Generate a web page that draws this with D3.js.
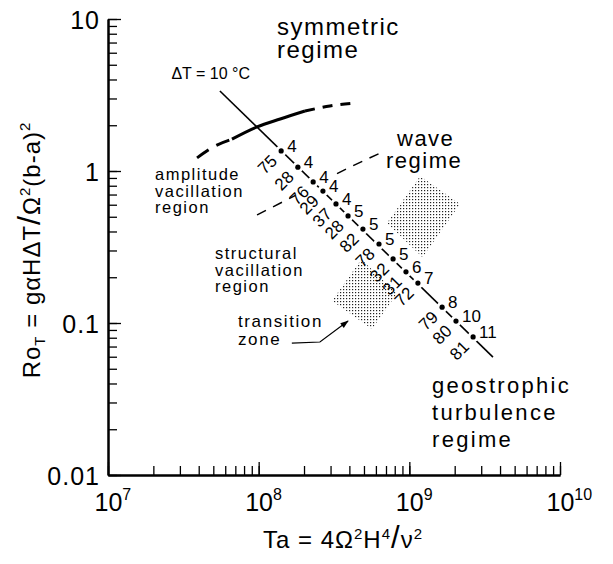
<!DOCTYPE html>
<html>
<head>
<meta charset="utf-8">
<script src="https://cdn.jsdelivr.net/npm/d3@7"></script>
<style>
  body { margin: 0; background: #fff; }
  svg text { font-family: "Liberation Sans", Arial, sans-serif; fill: #000; }
</style>
</head>
<body>
<div id="chart"></div>
<script>
// axis ticks
var taTicks = [1e7, 1e8, 1e9, 1e10];
var taExp = ["7", "8", "9", "10"];
var roTicks = [0.01, 0.1, 1, 10];
var roTickLabels = ["0.01", "0.1", "1", "10"];

// runs at dT = 10 C : Taylor number, thermal Rossby number, wave number, run id
var runTa = [1.41e8, 1.82e8, 2.30e8, 2.67e8, 3.26e8, 3.92e8, 4.92e8, 6.29e8, 7.80e8, 9.5e8, 1.14e9, 1.65e9, 2.04e9, 2.65e9];
var runRo = [1.355, 1.06, 0.848, 0.738, 0.607, 0.506, 0.415, 0.331, 0.264, 0.217, 0.183, 0.127, 0.103, 0.081];
var runWave = ["4", "4", "4", "4", "4", "5", "5", "5", "5", "6", "7", "8", "10", "11"];
var runId = ["75", "28", "76", "29", "37", "28", "82", "78", "32", "31", "72", "79", "80", "81"];

// the dT = 10 C line
var dtLineTa = [5.53e7, 3.59e9];
var dtLineRo = [3.36, 0.0597];

// symmetric / wave boundary (heavy curve), solid in the middle
var symLeftTa = [3.90e7, 5.13e7, 6.65e7];
var symLeftRo = [1.22, 1.46, 1.62];
var symMidTa = [6.65e7, 9.75e7, 1.39e8, 2.03e8];
var symMidRo = [1.62, 1.95, 2.20, 2.48];
var symRightTa = [2.03e8, 2.97e8, 4.35e8];
var symRightRo = [2.48, 2.68, 2.80];

// wave / amplitude vacillation boundary
var waveTa = [9.75e7, 1.88e8, 3.47e8, 6.6e8];
var waveRo = [0.514, 0.716, 0.984, 1.33];

// transition zone outline
var zoneTa = [3.07e8, 5.65e8, 2.17e9, 1.18e9];
var zoneRo = [0.140, 0.0914, 0.607, 0.927];

// arrow pointing at the transition zone
var arrowTa = [1.66e8, 2.55e8, 3.92e8];
var arrowRo = [0.0738, 0.0750, 0.103];

function pts(a, b) { return a.map(function(v, i) { return [v, b[i]]; }); }

var svg = d3.select("#chart")
  .append("svg")
  .attr("width", 613)
  .attr("height", 564);

var x = d3.scaleLog().domain([1e7, 1e10]).range([108, 560]);
var y = d3.scaleLog().domain([0.01, 10]).range([475, 19]);

var line = d3.line()
  .x(function(d) { return x(d[0]); })
  .y(function(d) { return y(d[1]); });
var smooth = d3.line()
  .x(function(d) { return x(d[0]); })
  .y(function(d) { return y(d[1]); })
  .curve(d3.curveMonotoneX);

// stipple pattern
var pat = svg.append("defs").append("pattern")
  .attr("id", "stip")
  .attr("patternUnits", "userSpaceOnUse")
  .attr("width", 3).attr("height", 3);
pat.append("rect").attr("x", 1).attr("y", 1).attr("width", 1.2).attr("height", 1.2).attr("fill", "#222");

// axes: minor ticks
svg.append("g")
  .attr("transform", "translate(0,475)")
  .call(d3.axisBottom(x).tickValues(x.ticks()).tickSize(-9).tickSizeOuter(0).tickFormat(""));
svg.append("g")
  .attr("transform", "translate(108,0)")
  .call(d3.axisLeft(y).tickValues(y.ticks()).tickSize(-9).tickSizeOuter(0).tickFormat(""));

// major ticks with labels
var xAxis = svg.append("g")
  .attr("transform", "translate(0,475)")
  .call(d3.axisBottom(x).tickValues(taTicks).tickSize(-13).tickSizeOuter(0).tickFormat(""));
xAxis.selectAll(".tick").append("text")
  .attr("x", -14)
  .attr("y", 36)
  .attr("text-anchor", "start")
  .style("font-size", "25px")
  .text("10")
  .append("tspan")
  .attr("dy", -11)
  .style("font-size", "16px")
  .text(function(d, i) { return taExp[i]; });

var yAxis = svg.append("g")
  .attr("transform", "translate(108,0)")
  .call(d3.axisLeft(y).tickValues(roTicks).tickSize(-13).tickSizeOuter(0).tickPadding(8)
    .tickFormat(function(d, i) { return roTickLabels[i]; }));
yAxis.selectAll(".tick text")
  .attr("dy", "0.36em")
  .style("font-size", "25px")
  .style("letter-spacing", "1px");

svg.selectAll(".domain").attr("stroke-width", 2);
svg.selectAll(".tick line").attr("stroke-width", 1.3);

// transition zone
svg.append("path")
  .attr("d", line(pts(zoneTa, zoneRo)) + "Z")
  .attr("fill", "url(#stip)");

// wave boundary, thin dashed
svg.append("path")
  .attr("d", smooth(pts(waveTa, waveRo)))
  .attr("fill", "none")
  .attr("stroke", "black")
  .attr("stroke-width", 1.5)
  .attr("stroke-dasharray", "10,8");

// clear a strip along the run line for the labels
svg.append("path")
  .attr("d", line([[runTa[0], runRo[0]], [runTa[runTa.length - 1], runRo[runRo.length - 1]]]))
  .attr("stroke", "white")
  .attr("stroke-width", 44);

// symmetric boundary, heavy
svg.append("path")
  .attr("d", smooth(pts(symLeftTa, symLeftRo)))
  .attr("fill", "none").attr("stroke", "black").attr("stroke-width", 3)
  .attr("stroke-dasharray", "14,9");
svg.append("path")
  .attr("d", smooth(pts(symMidTa, symMidRo)))
  .attr("fill", "none").attr("stroke", "black").attr("stroke-width", 3);
svg.append("path")
  .attr("d", smooth(pts(symRightTa, symRightRo)))
  .attr("fill", "none").attr("stroke", "black").attr("stroke-width", 3)
  .attr("stroke-dasharray", "10,8");

// dT = 10 C line
svg.append("path")
  .attr("d", line(pts(dtLineTa, dtLineRo)))
  .attr("stroke", "black")
  .attr("stroke-width", 1.6);

var runs = runTa.map(function(t, i) {
  return { ta: t, ro: runRo[i], wave: runWave[i], id: runId[i] };
});

svg.selectAll("circle.run")
  .data(runs)
  .enter().append("circle")
  .attr("class", "run")
  .attr("cx", function(d) { return x(d.ta); })
  .attr("cy", function(d) { return y(d.ro); })
  .attr("r", 2.6)
  .attr("fill", "black")
  .attr("stroke", "white")
  .attr("stroke-width", 6)
  .style("paint-order", "stroke");

svg.selectAll("text.wave")
  .data(runs)
  .enter().append("text")
  .attr("class", "wave")
  .attr("x", function(d) { return x(d.ta) + 6; })
  .attr("y", function(d) { return y(d.ro) + 1; })
  .style("font-size", "17px")
  .text(function(d) { return d.wave; });

svg.selectAll("text.runid")
  .data(runs)
  .enter().append("text")
  .attr("class", "runid")
  .attr("transform", function(d) {
    return "translate(" + (x(d.ta) - 3) + "," + (y(d.ro) + 11) + ") rotate(-45)";
  })
  .attr("text-anchor", "end")
  .style("font-size", "17px")
  .text(function(d) { return d.id; });

// arrow
svg.append("defs").append("marker")
  .attr("id", "head")
  .attr("viewBox", "0 0 10 10")
  .attr("refX", 9).attr("refY", 5)
  .attr("markerWidth", 9).attr("markerHeight", 7)
  .attr("orient", "auto")
  .append("path").attr("d", "M0,1.5 L10,5 L0,8.5 Z").attr("fill", "black");
svg.append("path")
  .attr("d", line(pts(arrowTa, arrowRo)))
  .attr("fill", "none")
  .attr("stroke", "black")
  .attr("stroke-width", 1.2)
  .attr("marker-end", "url(#head)");

// region labels
function label(lines, x0, y0, dy, size, ls) {
  var t = svg.append("text")
    .attr("x", x0).attr("y", y0)
    .style("font-size", size + "px")
    .style("letter-spacing", ls + "px");
  lines.forEach(function(s, i) {
    t.append("tspan").attr("x", x0).attr("y", y0 + i * dy).text(s);
  });
}
label(["symmetric", "regime"], 277, 35, 23, 24, 1.5);
label(["wave"], 397, 146, 0, 22, 1.5);
label(["regime"], 386, 168, 0, 22, 1.5);
label(["amplitude", "vacillation", "region"], 155, 180, 16.5, 16.5, 1.5);
label(["structural", "vacillation", "region"], 215, 259, 16.5, 16.5, 1.5);
label(["transition", "zone"], 238, 327, 18, 17, 1.6);
label(["geostrophic", "turbulence", "regime"], 432, 393, 27, 22, 2.3);

svg.append("text")
  .attr("x", 250).attr("y", 79)
  .attr("text-anchor", "end")
  .style("font-size", "16px")
  .text("\u0394T = 10 \u00B0C");

// axis titles
var xt = svg.append("text")
  .attr("x", 343).attr("y", 548)
  .attr("text-anchor", "middle")
  .style("font-size", "24px")
  .style("letter-spacing", "1px");
xt.append("tspan").text("Ta = 4\u03A9");
xt.append("tspan").attr("dy", -9).style("font-size", "15px").text("2");
xt.append("tspan").attr("dy", 9).text("H");
xt.append("tspan").attr("dy", -9).style("font-size", "15px").text("4");
xt.append("tspan").attr("dy", 9).style("font-size", "31px").text("/");
xt.append("tspan").text("\u03BD");
xt.append("tspan").attr("dy", -9).style("font-size", "15px").text("2");

var yt = svg.append("text")
  .attr("transform", "translate(40,250) rotate(-90)")
  .attr("text-anchor", "middle")
  .style("font-size", "24px")
  .style("letter-spacing", "1px");
yt.append("tspan").text("Ro");
yt.append("tspan").attr("dy", 5).style("font-size", "15px").text("T");
yt.append("tspan").attr("dy", -5).text(" = g\u03B1H\u0394T");
yt.append("tspan").style("font-size", "32px").text("/");
yt.append("tspan").text("\u03A9");
yt.append("tspan").attr("dy", -10).style("font-size", "15px").text("2");
yt.append("tspan").attr("dy", 10).text("(b-a)");
yt.append("tspan").attr("dy", -10).style("font-size", "15px").text("2");
</script>
</body>
</html>
